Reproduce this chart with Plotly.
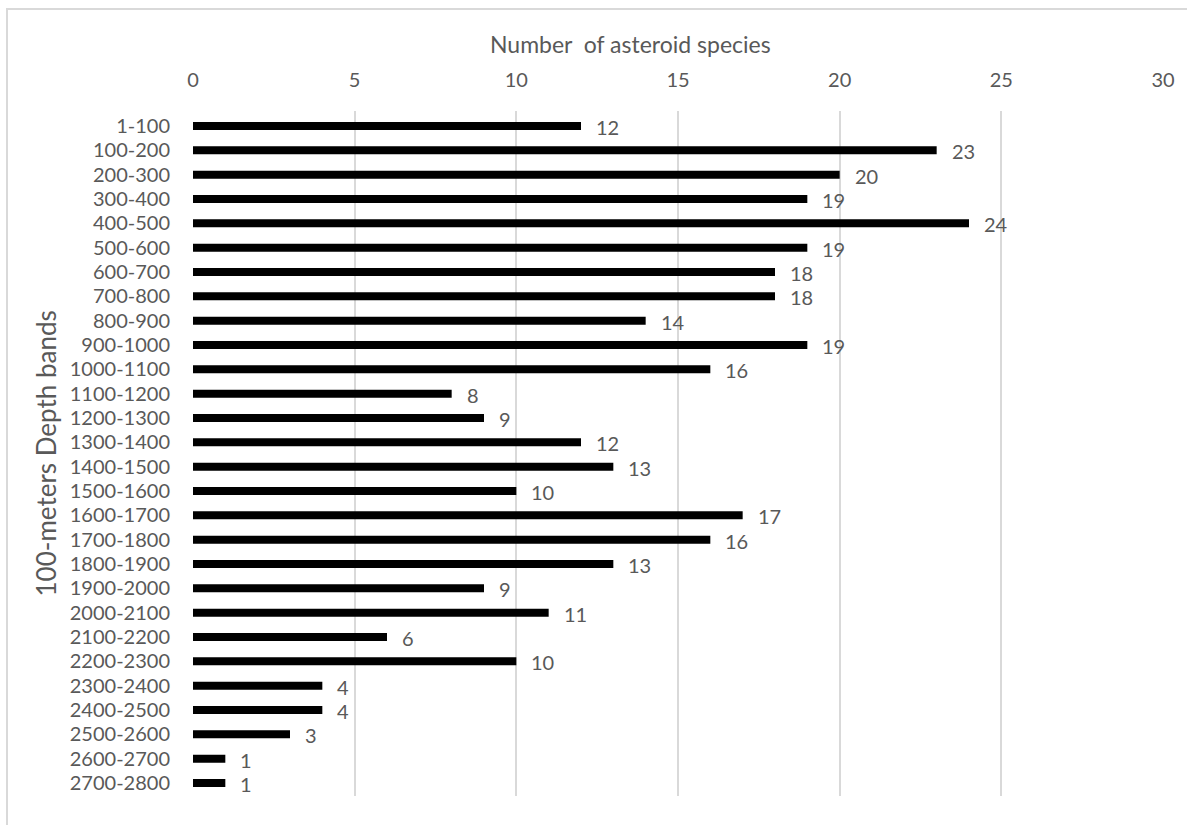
import plotly.graph_objects as go

# Depth bands (100 m each) and number of asteroid species recorded in each
depth_bands = [
    "1-100", "100-200", "200-300", "300-400", "400-500", "500-600", "600-700",
    "700-800", "800-900", "900-1000", "1000-1100", "1100-1200", "1200-1300",
    "1300-1400", "1400-1500", "1500-1600", "1600-1700", "1700-1800",
    "1800-1900", "1900-2000", "2000-2100", "2100-2200", "2200-2300",
    "2300-2400", "2400-2500", "2500-2600", "2600-2700", "2700-2800",
]
species_counts = [
    12, 23, 20, 19, 24, 19, 18, 18, 14, 19, 16, 8, 9, 12, 13, 10, 17, 16,
    13, 9, 11, 6, 10, 4, 4, 3, 1, 1,
]
x_ticks = [0, 5, 10, 15, 20, 25, 30]

FONT = "Lato, 'Open Sans', sans-serif"
GREY = "#595959"
GRID = "#d9d9d9"

W, H = 1187, 825
L, R, T, B = 193, 24, 111, 29
PW, PH = W - L - R, H - T - B

fig = go.Figure()
fig.add_trace(go.Bar(
    x=species_counts,
    y=depth_bands,
    orientation="h",
    marker=dict(color="#000000", line=dict(width=0)),
    width=0.33,
    hoverinfo="x+y",
))

# value labels to the right of each bar
for band, n in zip(depth_bands, species_counts):
    fig.add_annotation(
        x=n, y=band, xref="x", yref="y",
        text=str(n), showarrow=False,
        xanchor="left", yanchor="middle",
        xshift=13, yshift=-1,
        font=dict(family=FONT, size=20, color=GREY),
    )

# x-axis title above the tick labels
fig.add_annotation(
    x=(630 - L) / PW, y=1 + (T - 44) / PH, xref="paper", yref="paper",
    text="Number\u00a0 of asteroid species", showarrow=False,
    xanchor="center", yanchor="middle",
    font=dict(family=FONT, size=23, color=GREY),
)

# y-axis title, rotated
fig.add_annotation(
    x=(45 - L) / PW, y=0.5, xref="paper", yref="paper",
    text="100-meters Depth bands", showarrow=False, textangle=-90,
    xanchor="center", yanchor="middle",
    font=dict(family=FONT, size=26, color=GREY),
)

# outer chart frame
fig.add_shape(
    type="rect", xref="paper", yref="paper",
    x0=(7 - L) / PW, x1=1.2, y0=-0.2, y1=1 + (T - 9) / PH,
    line=dict(color=GRID, width=2), fillcolor="rgba(0,0,0,0)", layer="below",
)

fig.update_layout(
    width=W, height=H,
    margin=dict(l=L, r=R, t=T, b=B, pad=0),
    paper_bgcolor="white", plot_bgcolor="white",
    showlegend=False,
    bargap=0.67,
    font=dict(family=FONT, size=20, color=GREY),
    xaxis=dict(
        side="top", range=[0, 30], tickvals=x_ticks,
        showgrid=True, gridcolor=GRID, gridwidth=1.5,
        zeroline=False, showline=False,
        ticks="outside", ticklen=15, tickcolor="rgba(0,0,0,0)",
        tickfont=dict(family=FONT, size=20, color=GREY),
        fixedrange=True,
    ),
    yaxis=dict(
        categoryorder="array", categoryarray=depth_bands,
        autorange="reversed",
        showgrid=False, zeroline=False, showline=False,
        ticks="outside", ticklen=18, tickcolor="rgba(0,0,0,0)",
        tickfont=dict(family=FONT, size=20, color=GREY),
        fixedrange=True,
    ),
)

fig.write_html("out.html")
